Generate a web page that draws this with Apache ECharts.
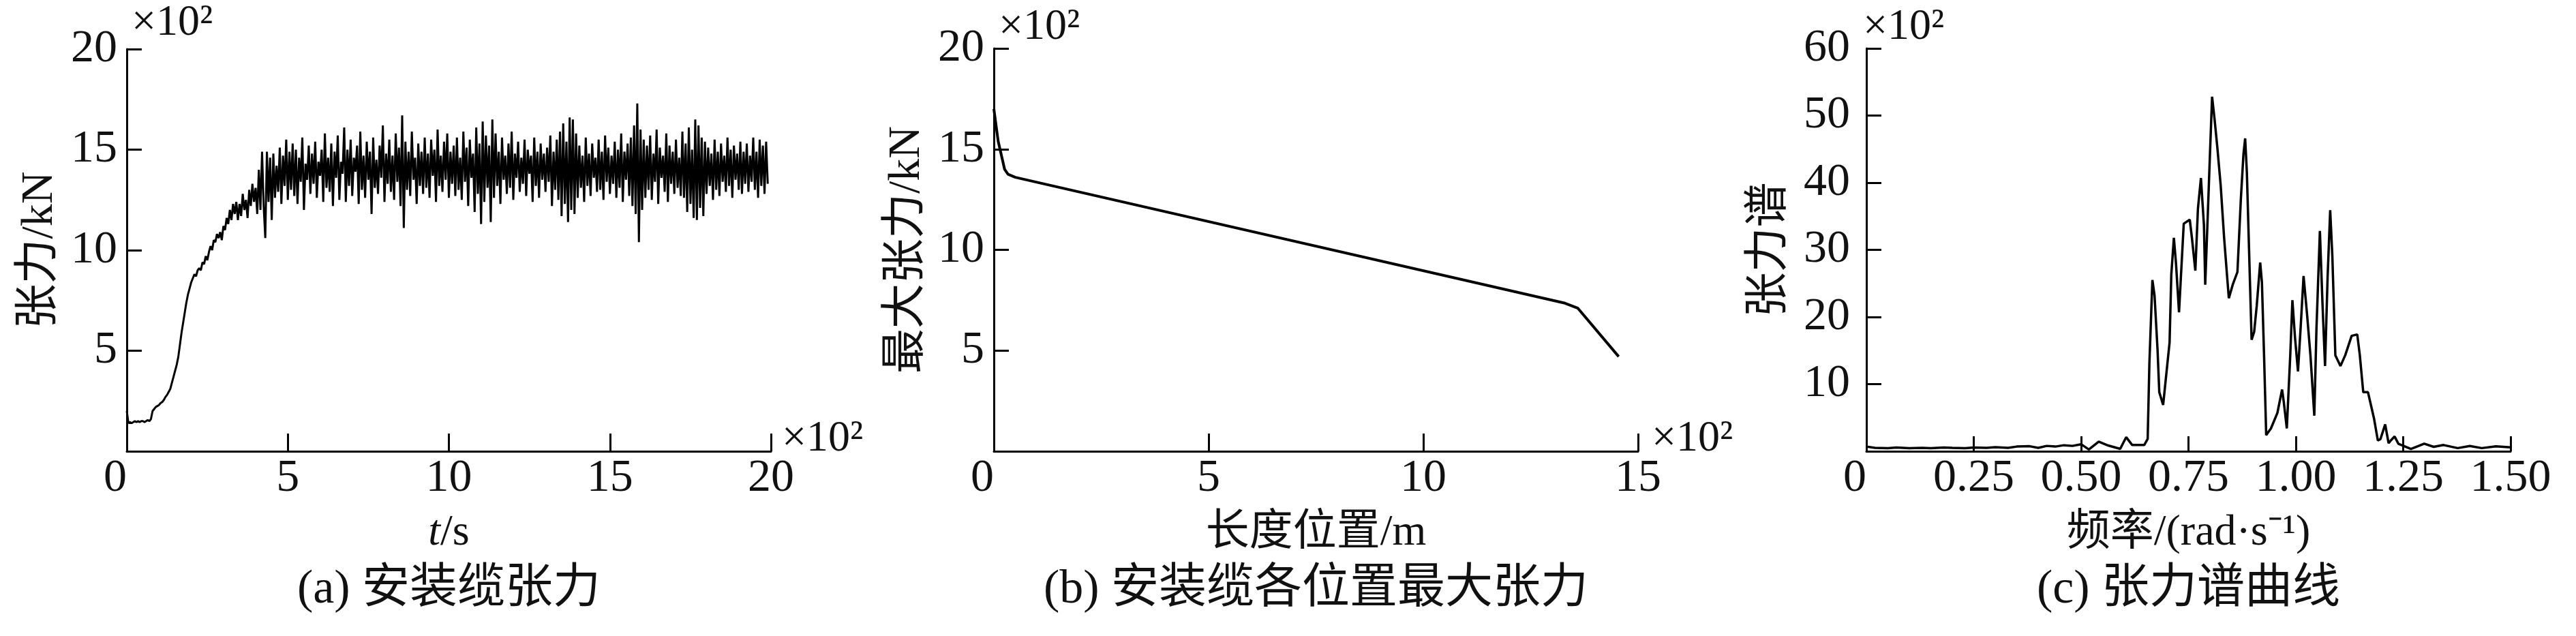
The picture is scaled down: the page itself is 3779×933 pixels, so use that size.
<!DOCTYPE html>
<html>
<head>
<meta charset="utf-8">
<script src="https://cdn.jsdelivr.net/npm/echarts@6/dist/echarts.min.js"></script>
<style>
html,body{margin:0;padding:0;background:#fff;}
#chart{width:3779px;height:933px;}
</style>
</head>
<body>
<div id="chart"></div>
<script>
// ---------- Panel (a): installation cable tension vs time (x100 s, x100 kN) ----------
const SAMPLE_STEP_S = 5; // sampling interval of the tension record, seconds
const rampTension = [
  2.0,1.4,1.45,1.4,1.45,1.5,1.45,1.5,1.45,1.5,
  1.5,1.45,1.5,1.55,1.5,1.6,2.0,2.1,2.2,2.25,
  2.3,2.4,2.45,2.55,2.7,2.8,2.95,3.1,3.4,3.7,
  4.0,4.3,4.7,5.3,5.9,6.4,6.9,7.4,7.8,8.1,
  8.4,8.6,8.8,8.7,9.0,9.1,9.0,9.4,9.3,9.7,
  9.5,9.9,10.2,10.0,10.5,10.4,10.8,10.6,10.9,10.5,
  11.2,11.0,11.6,11.3,12.0,11.5,12.3,11.8,12.4,11.5,
  12.3,11.7,12.8,12.0,12.5,11.6,13.0,12.2,13.3,12.4,
  13.1,11.8,14.0,12.0,14.9
];
const steadyTension = [
  12.2,10.6,14.9,12.4,14.6,11.5,14.8,12.6,14.2,12.9,15.1,12.3,14.7,13.2,15.5,12.5,14.9,13.0,15.3,12.7,
  15.0,12.3,14.6,13.4,15.6,12.0,14.3,13.5,15.2,12.8,14.8,13.3,15.4,12.6,14.4,13.7,15.0,12.4,15.8,13.1,
  14.6,12.9,15.3,12.2,14.9,13.6,15.7,12.5,14.4,13.8,16.1,12.4,15.0,13.2,15.5,12.7,14.6,13.9,15.2,12.3,
  15.9,13.0,14.7,12.6,15.4,13.5,14.9,11.8,15.6,13.1,14.5,12.8,15.2,13.6,16.2,12.4,14.8,13.3,15.5,12.9,
  14.7,12.5,15.8,13.4,15.1,12.2,16.7,11.1,15.4,13.0,14.9,12.7,15.9,13.5,14.6,12.3,15.3,13.2,14.9,12.8,
  15.6,13.1,14.8,12.6,15.5,13.7,15.0,12.4,16.0,13.2,14.7,12.9,15.4,13.5,15.8,12.6,14.9,13.3,15.2,12.7,
  15.6,13.0,14.6,12.5,15.9,13.4,15.1,12.2,15.5,13.6,14.8,11.9,16.1,12.8,15.3,11.3,16.4,12.4,15.7,13.1,
  15.2,11.4,16.5,12.6,15.8,13.2,14.9,12.3,15.6,13.5,14.7,12.8,15.3,13.1,15.9,12.5,14.8,13.6,15.4,12.9,
  14.6,13.3,15.5,12.7,15.0,13.8,14.7,12.4,15.6,13.2,14.9,12.6,15.3,13.5,14.8,12.9,15.1,13.4,15.7,12.2,
  14.9,13.0,15.5,12.5,15.9,11.7,16.3,12.3,15.4,11.4,16.6,12.0,16.5,11.8,15.8,12.6,15.2,13.1,14.7,12.4,
  15.6,13.2,14.8,12.7,15.3,13.6,14.6,12.9,15.5,13.0,14.9,12.5,15.7,13.4,15.1,12.8,14.7,13.3,15.4,12.6,
  15.0,13.1,15.8,12.4,14.9,13.5,15.3,12.7,15.6,12.2,16.2,11.8,17.3,10.4,16.0,12.0,15.5,12.6,15.2,13.0,
  15.7,12.5,14.8,13.4,16.0,12.3,15.1,13.6,14.7,12.9,15.8,12.4,15.2,13.3,14.9,12.8,15.5,13.1,14.6,12.7,
  15.9,12.6,15.3,11.9,16.1,12.3,15.0,11.6,16.5,11.5,16.2,12.1,15.6,11.7,15.4,12.8,15.1,13.2,14.8,12.5,
  15.5,13.0,14.9,12.7,15.3,13.4,14.7,12.9,15.6,13.2,15.0,12.6,15.2,13.5,14.8,13.0,15.4,12.8,14.9,13.3,
  15.3,12.9,14.7,13.4,15.6,13.0,14.9,12.6,15.5,13.2,15.2,12.8,15.4,13.3
];

// ---------- Panel (b): max tension along cable length (x100 m, x100 kN) ----------
const cablePos = [0, 0.1, 0.25, 0.33, 0.5, 13.3, 13.6, 14.55];
const cableMaxTension = [17.0, 15.4, 14.0, 13.75, 13.6, 7.35, 7.1, 4.7];

// ---------- Panel (c): tension spectrum (rad/s, x100) ----------
const specFreq = [
  0,0.02,0.05,0.07,0.10,0.13,0.15,0.18,0.20,0.23,
  0.25,0.28,0.30,0.33,0.35,0.38,0.40,0.42,0.44,0.46,
  0.48,0.50,0.518,0.541,0.563,0.591,0.605,0.619,0.647,0.655,
  0.659,0.666,0.671,0.678,0.682,0.691,0.706,0.710,0.716,0.721,
  0.728,0.733,0.739,0.753,0.758,0.766,0.772,0.779,0.786,0.789,
  0.795,0.800,0.805,0.811,0.817,0.825,0.833,0.840,0.844,0.853,
  0.864,0.872,0.878,0.882,0.886,0.892,0.897,0.903,0.909,0.917,
  0.921,0.926,0.931,0.942,0.957,0.968,0.972,0.979,0.987,0.992,
  0.998,1.005,1.011,1.018,1.026,1.034,1.043,1.048,1.056,1.062,
  1.068,1.074,1.080,1.085,1.092,1.104,1.115,1.130,1.143,1.149,
  1.157,1.168,1.182,1.191,1.197,1.208,1.216,1.221,1.230,1.239,
  1.249,1.268,1.299,1.321,1.344,1.377,1.405,1.433,1.466,1.50
];
const specValue = [
  0.7,0.5,0.45,0.55,0.45,0.5,0.45,0.55,0.5,0.45,
  0.55,0.5,0.6,0.5,0.7,0.75,0.5,0.8,0.7,0.9,
  0.8,1.05,0.27,1.44,0.86,0.35,2.1,0.93,0.93,1.83,
  13.1,25.5,23.2,15.1,8.8,6.9,16.2,26.3,31.8,27.9,
  20.7,26.7,33.9,34.5,31.8,26.9,36.1,40.7,33.7,24.8,
  35.3,44.2,52.8,49.3,45.4,39.6,31.8,26.0,22.8,24.8,
  26.7,37.6,44.2,46.6,41.5,27.9,16.6,17.8,21.7,28.1,
  25.2,14.3,2.4,3.4,5.7,9.2,7.3,3.4,14.3,22.5,
  17.0,11.9,18.2,26.1,20.5,14.3,5.3,18.2,32.8,22.1,
  12.7,26.0,35.9,29.1,14.3,12.7,14.3,17.2,17.4,14.3,
  8.8,8.8,4.9,1.6,1.8,4.0,1.2,1.6,2.2,1.1,
  0.86,0.35,1.13,0.66,0.93,0.47,0.78,0.47,0.74,0.58
];

// ---------- Text ----------
const panelTitles = ['(a) 安装缆张力', '(b) 安装缆各位置最大张力', '(c) 张力谱曲线'];
const yNames = ['张力/kN', '最大张力/kN', '张力谱'];
const xNames = ['{i|t}/s', '长度位置/m', '频率/(rad·s⁻¹)'];
const scaleMark = '×10²';

// ---------- Build ----------
const FONT = "'Liberation Serif','Noto Sans CJK SC',serif";
const INK = '#111';
const tensionAll = rampTension.concat(steadyTension);
const seriesA = tensionAll.map((v, i) => [i * SAMPLE_STEP_S / 100, v]);
const seriesB = cablePos.map((x, i) => [x, cableMaxTension[i]]);
const seriesC = specFreq.map((x, i) => [x, specValue[i]]);

const grids = [
  {left: 186, top: 72, width: 945, height: 590},
  {left: 1458, top: 71, width: 945, height: 591},
  {left: 2738, top: 71, width: 945, height: 591}
];

function xAxisCfg(gi, min, max, interval, name, tickLen, fmt) {
  return {
    type: 'value', gridIndex: gi, min, max, interval,
    axisLine: {lineStyle: {color: '#000', width: 3}},
    axisTick: {inside: true, length: tickLen, lineStyle: {color: '#000', width: 3}},
    axisLabel: {fontFamily: FONT, fontSize: 68, color: INK, margin: 6, alignMinLabel: 'right',
      formatter: fmt},
    splitLine: {show: false},
    name, nameLocation: 'middle', nameGap: 88,
    nameTextStyle: {fontFamily: FONT, fontSize: 64, color: INK,
      rich: {i: {fontFamily: FONT, fontSize: 64, fontStyle: 'italic', color: INK}}}
  };
}
function yAxisCfg(gi, min, max, interval, name, labelMargin, nameGap) {
  return {
    type: 'value', gridIndex: gi, min, max, interval,
    axisLine: {show: true, lineStyle: {color: '#000', width: 3}},
    axisTick: {show: true, inside: true, length: 22, lineStyle: {color: '#000', width: 3}},
    axisLabel: {fontFamily: FONT, fontSize: 68, color: INK, margin: labelMargin, showMinLabel: false},
    splitLine: {show: false},
    name, nameLocation: 'middle', nameGap, nameRotate: 90,
    nameTextStyle: {fontFamily: FONT, fontSize: 66, color: INK}
  };
}

const fmtC = v => (v === 0 ? '0' : v.toFixed(2));

const graphicTexts = [];
function addText(x, y, text, size, align) {
  graphicTexts.push({type: 'text', x, y, silent: true,
    style: {text, fontFamily: FONT, fontSize: size, fill: INK, align: align || 'left', verticalAlign: 'middle'}});
}
addText(193, 34, scaleMark, 64);
addText(1147, 644, scaleMark, 64);
addText(1465, 40, scaleMark, 64);
addText(2423, 644, scaleMark, 64);
addText(2733, 40, scaleMark, 64);
grids.forEach((g, i) => addText(g.left + g.width / 2, 866, panelTitles[i], 70, 'center'));

const option = {
  backgroundColor: '#fff',
  animation: false,
  grid: grids.map(g => Object.assign({containLabel: false, outerBoundsMode: 'none'}, g)),
  xAxis: [
    xAxisCfg(0, 0, 20, 5, xNames[0], 26),
    xAxisCfg(1, 0, 15, 5, xNames[1], 26),
    xAxisCfg(2, 0, 1.5, 0.25, xNames[2], 22, fmtC)
  ],
  yAxis: [
    yAxisCfg(0, 0, 20, 5, yNames[0], 14, 94),
    yAxisCfg(1, 0, 20, 5, yNames[1], 14, 94),
    yAxisCfg(2, 0, 60, 10, yNames[2], 24, 108)
  ],
  series: [
    {type: 'line', xAxisIndex: 0, yAxisIndex: 0, data: seriesA, showSymbol: false,
      lineStyle: {color: '#000', width: 3}, z: 1},
    {type: 'line', xAxisIndex: 1, yAxisIndex: 1, data: seriesB, showSymbol: false,
      lineStyle: {color: '#000', width: 4}},
    {type: 'line', xAxisIndex: 2, yAxisIndex: 2, data: seriesC, showSymbol: false,
      lineStyle: {color: '#000', width: 3.5}}
  ],
  graphic: graphicTexts
};

const chart = echarts.init(document.getElementById('chart'), null, {renderer: 'canvas'});
chart.setOption(option);
</script>
</body>
</html>
